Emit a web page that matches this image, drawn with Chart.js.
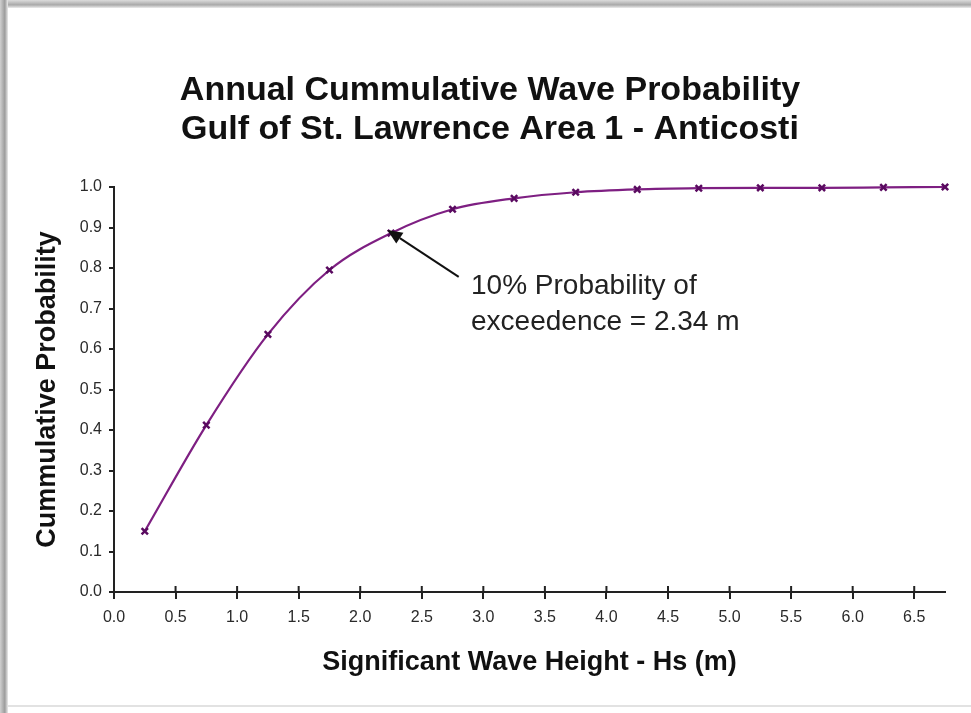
<!DOCTYPE html>
<html>
<head>
<meta charset="utf-8">
<title>Annual Cummulative Wave Probability</title>
<script src="https://cdn.jsdelivr.net/npm/chart.js@4.4.1/dist/chart.umd.min.js"></script>
<style>
    html, body { margin: 0; padding: 0; background: #fff; }
    #wrap { width: 971px; height: 713px; }
</style>
</head>
<body>
<div id="wrap"><canvas id="waveChart" width="971" height="713"></canvas></div>
<script>
// Data
const waveHeight = [0.25, 0.75, 1.25, 1.75, 2.25, 2.75, 3.25, 3.75, 4.25, 4.75, 5.25, 5.75, 6.25, 6.75];
const cumProbability = [0.15, 0.412, 0.636, 0.795, 0.886, 0.945, 0.972, 0.987, 0.994, 0.997, 0.998, 0.998, 0.999, 1.0];
const xTickValues = [0, 0.5, 1, 1.5, 2, 2.5, 3, 3.5, 4, 4.5, 5, 5.5, 6, 6.5];
const yTickValues = [0, 0.1, 0.2, 0.3, 0.4, 0.5, 0.6, 0.7, 0.8, 0.9, 1.0];
const titleLines = ["Annual Cummulative Wave Probability", "Gulf of St. Lawrence Area 1 - Anticosti"];
const noteLines = ["10% Probability of", "exceedence = 2.34 m"];

const FONT = "Arial, 'Liberation Sans', sans-serif";

// Gray frame / shadow round the white panel
const framePlugin = {
    id: "frame",
    beforeDraw(chart) {
        const { ctx, width, height } = chart;
        ctx.save();
        ctx.fillStyle = "#fff";
        ctx.fillRect(0, 0, width, height);
        let g = ctx.createLinearGradient(0, 0, 0, 8);
        g.addColorStop(0, "#dcdcdc");
        g.addColorStop(0.6, "#a9a9a9");
        g.addColorStop(1, "#ececec");
        ctx.fillStyle = g;
        ctx.fillRect(0, 0, width, 8);
        g = ctx.createLinearGradient(0, 0, 8, 0);
        g.addColorStop(0, "#d0d0d0");
        g.addColorStop(0.6, "#9c9c9c");
        g.addColorStop(1, "#eaeaea");
        ctx.fillStyle = g;
        ctx.fillRect(0, 0, 8, height);
        ctx.fillStyle = "#e2e2e2";
        ctx.fillRect(8, 705, width - 8, 2);
        ctx.restore();
    }
};

// Title, tick marks above the x axis, arrow and note
const extrasPlugin = {
    id: "extras",
    afterDraw(chart) {
        const { ctx } = chart;
        const xs = chart.scales.x;
        const ys = chart.scales.y;
        ctx.save();

        // title
        ctx.fillStyle = "#111";
        ctx.font = "bold 34px " + FONT;
        ctx.textAlign = "center";
        ctx.textBaseline = "alphabetic";
        ctx.fillText(titleLines[0], 490, 100);
        ctx.fillText(titleLines[1], 490, 139);

        // x ticks cross the axis
        ctx.strokeStyle = "#222";
        ctx.lineWidth = 2;
        ctx.beginPath();
        xs.ticks.forEach(t => {
            const px = xs.getPixelForValue(t.value);
            ctx.moveTo(px, xs.top - 6);
            ctx.lineTo(px, xs.top);
        });
        ctx.stroke();

        // arrow
        const hx = xs.getPixelForValue(2.22), hy = ys.getPixelForValue(0.894);
        const tx = xs.getPixelForValue(2.80), ty = ys.getPixelForValue(0.778);
        const ang = Math.atan2(hy - ty, hx - tx);
        const len = 15, half = 6.5;
        const bx = hx - len * Math.cos(ang), by = hy - len * Math.sin(ang);
        ctx.strokeStyle = "#111";
        ctx.lineWidth = 2;
        ctx.beginPath();
        ctx.moveTo(tx, ty);
        ctx.lineTo(bx, by);
        ctx.stroke();
        ctx.fillStyle = "#111";
        ctx.beginPath();
        ctx.moveTo(hx, hy);
        ctx.lineTo(bx + half * Math.sin(ang), by - half * Math.cos(ang));
        ctx.lineTo(bx - half * Math.sin(ang), by + half * Math.cos(ang));
        ctx.closePath();
        ctx.fill();

        // note
        ctx.fillStyle = "#222";
        ctx.font = "28px " + FONT;
        ctx.textAlign = "left";
        const nx = xs.getPixelForValue(2.9), ny = ys.getPixelForValue(0.736);
        noteLines.forEach((line, i) => ctx.fillText(line, nx, ny + i * 36));

        ctx.restore();
    }
};

const ctx = document.getElementById("waveChart").getContext("2d");

new Chart(ctx, {
    type: "line",
    data: {
        datasets: [{
            label: "Cummulative Probability",
            data: waveHeight.map((x, i) => ({ x: x, y: cumProbability[i] })),
            borderColor: "#7e1f82",
            borderWidth: 2.2,
            cubicInterpolationMode: "monotone",
            clip: false,
            pointStyle: "crossRot",
            pointRadius: 4.5,
            pointBorderWidth: 2.5,
            pointBorderColor: "#5a0a60",
            pointBackgroundColor: "#5a0a60",
            fill: false
        }]
    },
    options: {
        responsive: false,
        animation: false,
        layout: {
            padding: { left: 0, top: 187, right: 26, bottom: 37 }
        },
        plugins: {
            legend: { display: false },
            title: { display: false },
            tooltip: { enabled: false }
        },
        scales: {
            x: {
                type: "linear",
                min: 0,
                max: 6.75,
                afterBuildTicks: scale => {
                    scale.ticks = xTickValues.map(v => ({ value: v }));
                },
                afterFit: scale => { scale.height = 84; },
                border: { color: "#222", width: 2 },
                grid: { drawOnChartArea: false, tickLength: 7, color: "#222", lineWidth: 2 },
                ticks: {
                    padding: 9,
                    color: "#2a2a2a",
                    font: { family: FONT, size: 16 },
                    maxRotation: 0,
                    callback: v => Number(v).toFixed(1)
                },
                title: {
                    display: true,
                    text: "Significant Wave Height - Hs (m)",
                    color: "#111",
                    font: { family: FONT, size: 27, weight: "bold", lineHeight: 1 },
                    padding: { top: 0, bottom: 0 }
                }
            },
            y: {
                min: 0,
                max: 1,
                afterBuildTicks: scale => {
                    scale.ticks = yTickValues.map(v => ({ value: v }));
                },
                afterFit: scale => { scale.width = 114; },
                border: { color: "#222", width: 2 },
                grid: { drawOnChartArea: false, tickLength: 5, color: "#222", lineWidth: 2 },
                ticks: {
                    padding: 7,
                    color: "#2a2a2a",
                    font: { family: FONT, size: 16 },
                    callback: v => Number(v).toFixed(1)
                },
                title: {
                    display: true,
                    text: "Cummulative Probability",
                    color: "#111",
                    font: { family: FONT, size: 27, weight: "bold", lineHeight: 1 },
                    padding: { top: 34, bottom: 0 }
                }
            }
        }
    },
    plugins: [framePlugin, extrasPlugin]
});
</script>
</body>
</html>
